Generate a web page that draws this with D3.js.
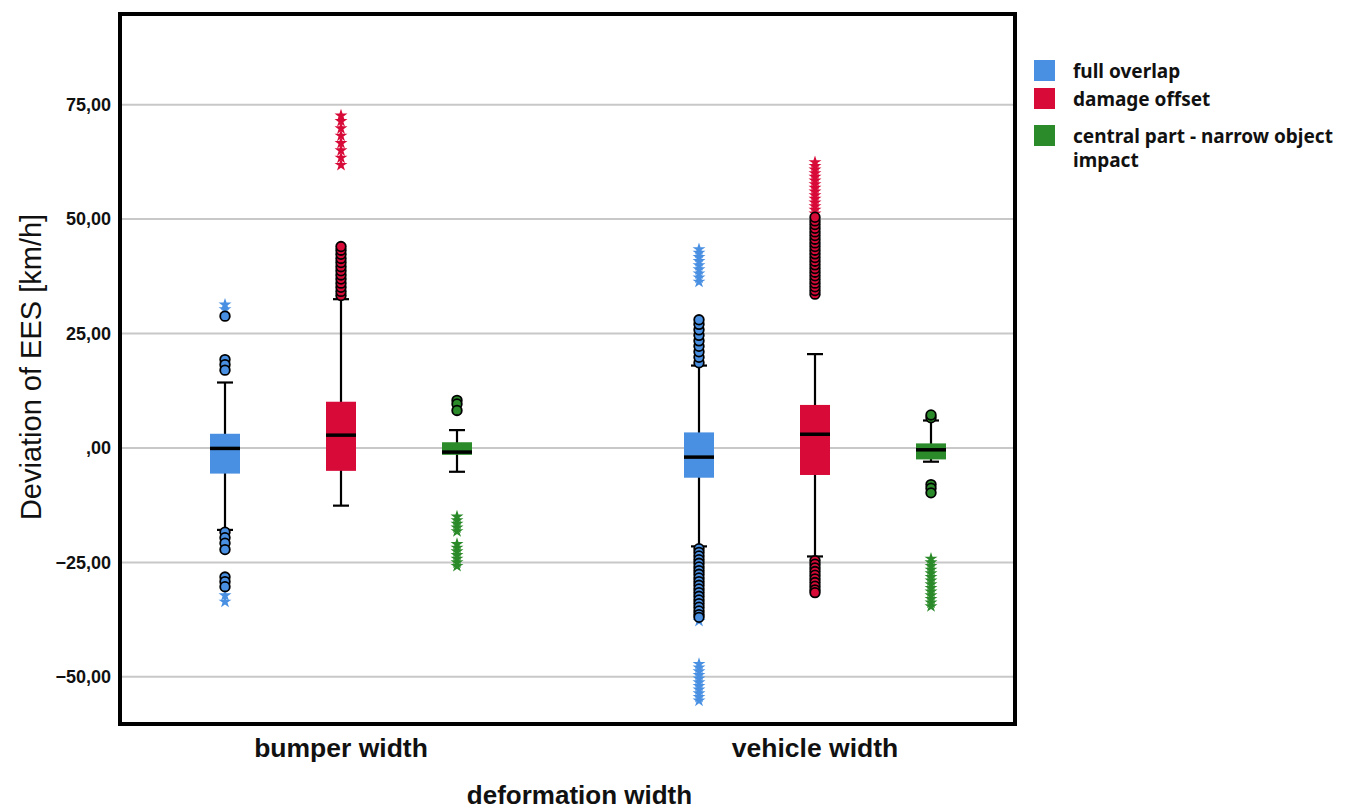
<!DOCTYPE html>
<html>
<head>
<meta charset="utf-8">
<script src="https://cdn.jsdelivr.net/npm/d3@7"></script>
<style>
  body { margin: 0; background: #ffffff; }
  svg { display: block; }
</style>
</head>
<body>
<svg id="chart" width="1362" height="812"></svg>
<script>
// ---- data -------------------------------------------------------------
const categories = ["bumper width", "vehicle width"];
const seriesNames = ["full overlap", "damage offset", "central part - narrow object impact"];
const legendLines = [["full overlap"], ["damage offset"], ["central part - narrow object", "impact"]];
const seriesColors = ["#4a90e2", "#d80a38", "#2b8a2a"];
const yTicks = [-50, -25, 0, 25, 50, 75];

// [whisker low, Q1, median, Q3, whisker high] per series
const bumperBoxes = [
  [-17.9, -5.6, -0.1, 3.1, 14.3],
  [-12.6, -5.0, 2.8, 10.1, 32.5],
  [-5.2, -1.5, -0.9, 1.25, 3.9]
];
const vehicleBoxes = [
  [-21.5, -6.5, -2.0, 3.4, 18.0],
  [-23.7, -5.9, 3.0, 9.4, 20.5],
  [-3.0, -2.5, -0.4, 1.0, 6.0]
];

// outliers (circles) per series
const bumperOutliers = [
  [28.8, 19.3, 18.2, 17.0, -18.4, -19.6, -20.8, -22.2, -28.2, -29.2, -30.3],
  [33.3, 34.2, 35.1, 36.0, 36.9, 37.8, 38.7, 39.6, 40.5, 41.4, 42.3, 43.2, 44.0],
  [10.4, 9.6, 8.2]
];
const vehicleOutliers = [
  [18.6, 19.8, 21.0, 22.2, 23.4, 24.6, 25.8, 27.0, 28.0,
   -22.0, -22.8, -23.6, -24.4, -25.2, -26.0, -26.8, -27.6, -28.4, -29.2,
   -30.0, -30.8, -31.6, -32.4, -33.2, -34.0, -34.8, -35.6, -36.4, -37.0],
  [33.6, 34.4, 35.2, 36.0, 36.8, 37.6, 38.4, 39.2, 40.0, 40.8, 41.6, 42.4,
   43.2, 44.0, 44.8, 45.6, 46.4, 47.2, 48.0, 48.8, 49.6, 50.4,
   -24.6, -25.4, -26.2, -27.0, -27.8, -28.6, -29.4, -30.2, -31.0, -31.6],
  [6.6, 7.2, -8.0, -8.8, -9.8]
];

// extreme values (stars) per series
const bumperExtremes = [
  [31.3, 30.3, -32.2, -33.6],
  [61.8, 63.4, 65.0, 66.6, 68.2, 69.8, 71.4, 72.6],
  [-15.0, -15.8, -16.6, -17.4, -18.2, -21.0, -21.8, -22.6, -23.4, -24.2, -25.0, -25.8]
];
const vehicleExtremes = [
  [36.3, 37.2, 38.1, 39.0, 39.9, 40.8, 41.7, 42.6, 43.4,
   -37.8, -47.2, -48.0, -48.8, -49.6, -50.4, -51.2, -52.0, -52.8, -53.6, -54.4, -55.2],
  [51.2, 52.0, 52.8, 53.6, 54.4, 55.2, 56.0, 56.8, 57.6, 58.4, 59.2, 60.0, 60.8, 61.6, 62.4],
  [-24.2, -25.0, -25.8, -26.6, -27.4, -28.2, -29.0, -29.8, -30.6, -31.4, -32.2, -33.0, -33.8, -34.6]
];

const boxesByCategory = [bumperBoxes, vehicleBoxes];
const outliersByCategory = [bumperOutliers, vehicleOutliers];
const extremesByCategory = [bumperExtremes, vehicleExtremes];

// ---- layout -----------------------------------------------------------
const svg = d3.select("#chart");
const plot = { left: 120, top: 14, right: 1015, bottom: 724 };
const groupInset = { left: 221, right: 200 };
const seriesSpread = 116;
const boxHalf = 15, capHalf = 8;

const y = d3.scaleLinear().domain([-60.3, 94.8]).range([plot.bottom, plot.top]);
const x0 = d3.scalePoint().domain(categories)
  .range([plot.left + groupInset.left, plot.right - groupInset.right]);
const x1 = d3.scalePoint().domain(seriesNames).range([-seriesSpread, seriesSpread]);

const spssLocale = d3.formatLocale({ decimal: ",", thousands: ".", grouping: [3], currency: ["", ""] });
const fmt2 = spssLocale.format(".2f");
const tickFormat = v => fmt2(v).replace(/^(-?)0,/, "$1,");

// grid lines
svg.append("g").selectAll("line").data(yTicks).join("line")
  .attr("x1", plot.left).attr("x2", plot.right)
  .attr("y1", d => y(d)).attr("y2", d => y(d))
  .attr("stroke", "#c8c8c8").attr("stroke-width", 2);

// y axis labels
const yAxis = svg.append("g")
  .attr("transform", `translate(${plot.left},0)`)
  .call(d3.axisLeft(y).tickValues(yTicks).tickSize(0).tickPadding(9).tickFormat(tickFormat));
yAxis.select(".domain").remove();
yAxis.selectAll("text")
  .attr("font-family", "'Liberation Sans', Arial, sans-serif")
  .attr("font-weight", "bold").attr("font-size", 18).attr("fill", "#111");

// boxes
const records = [];
categories.forEach((cat, ci) => {
  seriesNames.forEach((s, si) => {
    const [lo, q1, med, q3, hi] = boxesByCategory[ci][si];
    records.push({
      cx: x0(cat) + x1(s), color: seriesColors[si],
      lo, q1, med, q3, hi,
      outliers: outliersByCategory[ci][si],
      extremes: extremesByCategory[ci][si]
    });
  });
});

const g = svg.append("g");
records.forEach(r => {
  const bg = g.append("g");
  // whisker stem
  bg.append("line").attr("x1", r.cx).attr("x2", r.cx)
    .attr("y1", y(r.lo)).attr("y2", y(r.hi))
    .attr("stroke", "#000").attr("stroke-width", 2.2);
  // caps
  [r.lo, r.hi].forEach(v => {
    bg.append("line").attr("x1", r.cx - capHalf).attr("x2", r.cx + capHalf)
      .attr("y1", y(v)).attr("y2", y(v))
      .attr("stroke", "#000").attr("stroke-width", 2.2);
  });
  // box
  bg.append("rect").attr("x", r.cx - boxHalf).attr("width", boxHalf * 2)
    .attr("y", y(r.q3)).attr("height", y(r.q1) - y(r.q3))
    .attr("fill", r.color);
  // median
  bg.append("line").attr("x1", r.cx - boxHalf).attr("x2", r.cx + boxHalf)
    .attr("y1", y(r.med)).attr("y2", y(r.med))
    .attr("stroke", "#000").attr("stroke-width", 3.5);
  // extremes
  bg.selectAll("path.star").data(r.extremes).join("path")
    .attr("class", "star")
    .attr("transform", d => `translate(${r.cx},${y(d)})`)
    .attr("d", d3.symbol(d3.symbolStar, 52)())
    .attr("fill", r.color);
  // outliers
  bg.selectAll("circle").data(r.outliers).join("circle")
    .attr("cx", r.cx).attr("cy", d => y(d)).attr("r", 4.8)
    .attr("fill", r.color).attr("stroke", "#000").attr("stroke-width", 1.8);
});

// frame
svg.append("rect")
  .attr("x", plot.left).attr("y", plot.top)
  .attr("width", plot.right - plot.left).attr("height", plot.bottom - plot.top)
  .attr("fill", "none").attr("stroke", "#000").attr("stroke-width", 4);

// category labels
svg.append("g").selectAll("text").data(categories).join("text")
  .attr("x", d => x0(d)).attr("y", 757)
  .attr("text-anchor", "middle")
  .attr("font-family", "'Liberation Sans', Arial, sans-serif")
  .attr("font-weight", "bold").attr("font-size", 26.5).attr("fill", "#111")
  .text(d => d);

// axis titles
svg.append("text")
  .attr("x", (plot.left + plot.right) / 2 + 12).attr("y", 804)
  .attr("text-anchor", "middle")
  .attr("font-family", "'Liberation Sans', Arial, sans-serif")
  .attr("font-weight", "bold").attr("font-size", 26).attr("fill", "#111")
  .text("deformation width");

svg.append("text")
  .attr("transform", `translate(41,${(y(25) + y(-25)) / 2 - 81}) rotate(-90)`)
  .attr("text-anchor", "middle")
  .attr("font-family", "'Liberation Sans', Arial, sans-serif")
  .attr("font-size", 29).attr("fill", "#111")
  .text("Deviation of EES [km/h]");

// legend
const legend = svg.append("g").attr("transform", "translate(1034,60)");
const legendRowY = [0, 28, 65];
legendLines.forEach((lines, i) => {
  const row = legend.append("g").attr("transform", `translate(0,${legendRowY[i]})`);
  row.append("rect").attr("width", 21).attr("height", 21).attr("fill", seriesColors[i]);
  lines.forEach((t, li) => {
    row.append("text")
      .attr("x", 39).attr("y", 18 + li * 24)
      .attr("font-family", "'Noto Sans', 'Open Sans', sans-serif")
      .attr("font-weight", "bold").attr("font-size", 19).attr("fill", "#111")
      .text(t);
  });
});
</script>
</body>
</html>
